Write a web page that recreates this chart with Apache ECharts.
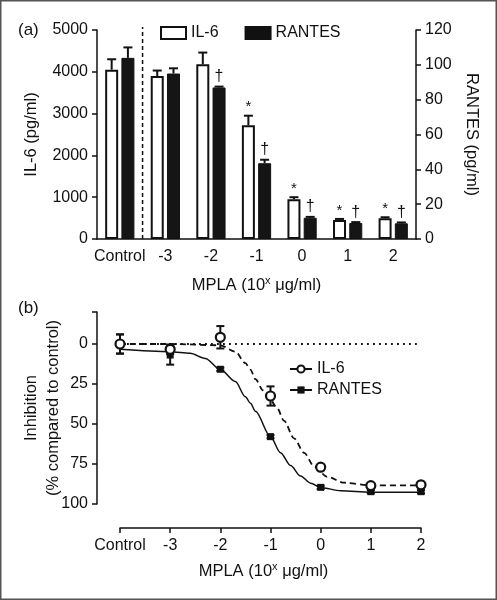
<!DOCTYPE html>
<html>
<head>
<meta charset="utf-8">
<script src="https://cdn.jsdelivr.net/npm/echarts@6/dist/echarts.min.js"></script>
<style>html,body{margin:0;padding:0;background:#fff;}#c{width:497px;height:600px;}</style>
</head>
<body>
<div id="c"></div>
<script>
// ---------- Panel (a) data ----------
var cats = ['Control', '-3', '-2', '-1', '0', '1', '2'];
var il6Mean = [4050, 3900, 4180, 2720, 950, 455, 495];
var il6Err = [250, 130, 280, 230, 50, 25, 25];
var il6Mark = ['', '', '', '*', '*', '*', '*'];
var rantesMean = [104, 95, 87, 43.5, 12.2, 9.2, 9];
var rantesErr = [6, 3, 0.5, 2, 0.5, 0.5, 0.5];
var rantesMark = ['', '', '†', '†', '†', '†', '†'];
var leftTicks = [0, 1000, 2000, 3000, 4000, 5000];
var rightTicks = [0, 20, 40, 60, 80, 100, 120];

// ---------- Panel (b) data ----------
var doseX = [-4, -3, -2, -1, 0, 1, 2]; // -4 = Control
var il6Inh = [0, 3.3, -4.2, 32.5, 77, 88.5, 88];
var il6InhErr = [6, 3, 7, 6, 1, 1, 1];
var rantesInh = [0, 6.9, 15.8, 57.9, 89.6, 92.3, 92.3];
var rantesInhErr = [6, 6, 1, 1, 1, 1, 1];
// fitted curves
var il6FitX = [-4, -3, -2, -1.7, -1.5, -1.4, -1.3, -1.15, -1, -0.87, -0.73, -0.53, -0.33, -0.13, 0.13, 0.47, 1, 2];
var il6FitY = [0, 0, 0.8, 4.8, 12, 16, 22, 29, 35, 40, 48, 59, 68, 76.5, 83, 86.7, 88.3, 88.3];
var rantesFitX = [-4, -3, -2.6, -2.3, -2, -1.7, -1.5, -1.4, -1.3, -1, -0.8, -0.6, -0.4, -0.2, 0, 0.4, 1, 2];
var rantesFitY = [3.3, 4.8, 5.8, 9, 16, 23.5, 33, 37, 42, 58, 68, 76, 82.5, 87, 89.7, 91.7, 92.6, 92.7];
var inhTicks = [-20, 0, 25, 50, 75, 100];
var inhLabels = [0, 25, 50, 75, 100];

var FONT = "'Liberation Sans', Arial, Helvetica, sans-serif";
var FS = 16;
var NFS = 16.5;
var BAR_W = 13, BAR_GAP = 3.25;

function zip(a, b) { return a.map(function (v, i) { return [v, b[i]]; }); }
function plain(v) { return String(v); }

function barErr(means, errs, marks, sign) {
  return function (params, api) {
    var i = params.dataIndex;
    var x = api.coord([i, 0])[0] + sign * (BAR_W + BAR_GAP) / 2;
    var yTop = api.coord([i, means[i]])[1];
    var yE = api.coord([i, means[i] + errs[i]])[1];
    var children = [
      { type: 'line', shape: { x1: x, y1: yTop, x2: x, y2: yE }, style: { stroke: '#111', lineWidth: 2 } },
      { type: 'line', shape: { x1: x - 4.5, y1: yE, x2: x + 4.5, y2: yE }, style: { stroke: '#111', lineWidth: 2 } }
    ];
    if (marks[i]) {
      var star = marks[i] === '*';
      children.push({ type: 'text', style: { text: marks[i], x: x, y: yE - (star ? 1 : 2), align: 'center', verticalAlign: 'bottom', font: (star ? '15px ' : '16px ') + FONT, fill: '#111' } });
    }
    return { type: 'group', children: children };
  };
}

function ptErr(xs, means, errs) {
  return function (params, api) {
    var i = params.dataIndex;
    var p1 = api.coord([xs[i], means[i] - errs[i]]);
    var p2 = api.coord([xs[i], means[i] + errs[i]]);
    var s = { stroke: '#111', lineWidth: 2 };
    return { type: 'group', children: [
      { type: 'line', shape: { x1: p1[0], y1: p1[1], x2: p2[0], y2: p2[1] }, style: s },
      { type: 'line', shape: { x1: p1[0] - 4, y1: p1[1], x2: p1[0] + 4, y2: p1[1] }, style: s },
      { type: 'line', shape: { x1: p2[0] - 4, y1: p2[1], x2: p2[0] + 4, y2: p2[1] }, style: s }
    ] };
  };
}

var axisTxt = { color: '#111', fontSize: FS, fontFamily: FONT };
var nameTxt = { color: '#111', fontSize: NFS, fontFamily: FONT };
var axLine = { show: true, onZero: false, lineStyle: { color: '#111', width: 1.5 } };
var axTick = { show: true, length: 5, lineStyle: { color: '#111', width: 1.5 } };
var mplaName = 'MPLA (10{sup|x} μg/ml)';
var mplaRich = { sup: { fontSize: 11, fontFamily: FONT, color: '#111', padding: [0, 0, 9, 0] } };

var chart = echarts.init(document.getElementById('c'), null, { renderer: 'canvas' });
var option = {
  animation: false,
  backgroundColor: '#fff',
  textStyle: { fontFamily: FONT },
  graphic: [
    { type: 'rect', shape: { x: 0.75, y: 0.75, width: 495.5, height: 598.5 }, style: { fill: 'none', stroke: '#555', lineWidth: 1.5 } },
    { type: 'text', left: 18, top: 22, style: { text: '(a)', font: '17px ' + FONT, fill: '#111' } },
    { type: 'text', left: 18, top: 300, style: { text: '(b)', font: '17px ' + FONT, fill: '#111' } }
  ],
  legend: [
    {
      left: 160, top: 25, padding: 0, itemWidth: 25, itemHeight: 12, itemGap: 26, orient: 'horizontal',
      textStyle: { fontSize: FS, fontFamily: FONT, color: '#111' },
      data: [
        { name: 'IL-6', icon: 'rect', itemStyle: { color: '#fff', borderColor: '#111', borderWidth: 2 } },
        { name: 'RANTES', icon: 'rect', itemStyle: { color: '#111' } }
      ]
    },
    {
      left: 289, top: 361, padding: 0, orient: 'vertical', itemWidth: 22, itemHeight: 9, itemGap: 5,
      textStyle: { fontSize: FS, fontFamily: FONT, color: '#111' },
      formatter: function (n) { return n.replace(' (b)', ''); },
      data: [
        { name: 'IL-6 (b)', lineStyle: { opacity: 1, width: 2, color: '#111', type: 'solid' } },
        { name: 'RANTES (b)', lineStyle: { opacity: 1, width: 2, color: '#111', type: 'solid' } }
      ]
    }
  ],
  grid: [
    { left: 97, right: 81, top: 30, height: 209 },
    { left: 120, right: 76, top: 312, height: 192 }
  ],
  xAxis: [
    {
      gridIndex: 0, type: 'category', data: cats, boundaryGap: true,
      axisLine: axLine, axisTick: { show: false },
      axisLabel: Object.assign({ margin: 10, interval: 0 }, axisTxt),
      name: mplaName, nameLocation: 'middle', nameGap: 36, nameMoveOverlap: false,
      nameTextStyle: Object.assign({ rich: mplaRich }, nameTxt)
    },
    {
      gridIndex: 1, type: 'value', min: doseX[0], max: doseX[doseX.length - 1], interval: 1, offset: 24,
      axisLine: axLine, axisTick: axTick, splitLine: { show: false },
      axisLabel: Object.assign({ margin: 10, formatter: function (v) { return v === doseX[0] ? 'Control' : String(v); } }, axisTxt),
      name: mplaName, nameLocation: 'middle', nameGap: 33, nameMoveOverlap: false,
      nameTextStyle: Object.assign({ rich: mplaRich, padding: [0, 14, 0, 0] }, nameTxt)
    }
  ],
  yAxis: [
    {
      gridIndex: 0, type: 'value', position: 'left', min: leftTicks[0], max: leftTicks[leftTicks.length - 1], interval: 1000,
      axisLine: axLine, axisTick: axTick, splitLine: { show: false },
      axisLabel: Object.assign({ margin: 9, formatter: plain }, axisTxt),
      name: 'IL-6 (pg/ml)', nameLocation: 'middle', nameGap: 57, nameMoveOverlap: false, nameTextStyle: nameTxt
    },
    {
      gridIndex: 0, type: 'value', position: 'right', min: rightTicks[0], max: rightTicks[rightTicks.length - 1], interval: 20,
      axisLine: axLine, axisTick: axTick, splitLine: { show: false },
      axisLabel: Object.assign({ margin: 9, formatter: plain }, axisTxt),
      name: 'RANTES (pg/ml)', nameLocation: 'middle', nameGap: 47, nameRotate: -90, nameMoveOverlap: false, nameTextStyle: nameTxt
    },
    {
      gridIndex: 1, type: 'value', inverse: true, min: inhTicks[0], max: inhTicks[inhTicks.length - 1], offset: 23,
      axisLine: axLine,
      axisTick: Object.assign({ customValues: inhTicks }, axTick),
      splitLine: { show: false },
      axisLabel: Object.assign({ margin: 9, customValues: inhLabels, formatter: plain }, axisTxt),
      name: 'Inhibition\n(% compared to control)', nameLocation: 'middle', nameGap: 33, nameMoveOverlap: false,
      nameTextStyle: Object.assign({ lineHeight: 22 }, nameTxt)
    }
  ],
  series: [
    // ---- panel a ----
    {
      name: 'IL-6', type: 'bar', xAxisIndex: 0, yAxisIndex: 0, data: il6Mean, barWidth: BAR_W, barGap: (BAR_GAP / BAR_W * 100) + '%',
      itemStyle: { color: '#fff', borderColor: '#111', borderWidth: 2 }
    },
    {
      name: 'RANTES', type: 'bar', xAxisIndex: 0, yAxisIndex: 1, data: rantesMean, barWidth: BAR_W, barGap: (BAR_GAP / BAR_W * 100) + '%',
      itemStyle: { color: '#151515', borderColor: '#111', borderWidth: 1 }
    },
    {
      type: 'custom', xAxisIndex: 0, yAxisIndex: 0, z: 5, silent: true,
      data: il6Mean.map(function (v, i) { return [i, v]; }),
      renderItem: barErr(il6Mean, il6Err, il6Mark, -1)
    },
    {
      type: 'custom', xAxisIndex: 0, yAxisIndex: 1, z: 5, silent: true,
      data: rantesMean.map(function (v, i) { return [i, v]; }),
      renderItem: barErr(rantesMean, rantesErr, rantesMark, 1)
    },
    {
      type: 'custom', xAxisIndex: 0, yAxisIndex: 0, z: 4, silent: true,
      data: [[0, 0]],
      renderItem: function (params, api) {
        var band = api.size([1, 0])[0];
        var x = api.coord([0, 0])[0] + band / 2;
        var y0 = api.coord([0, 0])[1];
        var y1 = api.coord([0, leftTicks[leftTicks.length - 1]])[1] - 3;
        return { type: 'line', shape: { x1: x, y1: y0, x2: x, y2: y1 }, style: { stroke: '#111', lineWidth: 1.5, lineDash: [4, 3] } };
      }
    },
    // ---- panel b ----
    {
      type: 'line', xAxisIndex: 1, yAxisIndex: 2, clip: false, silent: true, symbol: 'none',
      data: [[doseX[0] - 23 / 50.2, 0], [doseX[doseX.length - 1], 0]],
      lineStyle: { color: '#111', width: 1.8, type: [1.8, 4.2] }, z: 1
    },
    {
      type: 'line', xAxisIndex: 1, yAxisIndex: 2, symbol: 'none', smooth: 0.3, smoothMonotone: 'x', silent: true,
      data: zip(il6FitX, il6FitY), lineStyle: { color: '#111', width: 1.8, type: [6, 4] }, z: 2
    },
    {
      type: 'line', xAxisIndex: 1, yAxisIndex: 2, symbol: 'none', smooth: 0.3, smoothMonotone: 'x', silent: true,
      data: zip(rantesFitX, rantesFitY), lineStyle: { color: '#111', width: 1.5 }, z: 2
    },
    {
      type: 'custom', xAxisIndex: 1, yAxisIndex: 2, z: 3, silent: true,
      data: zip(doseX, rantesInh), renderItem: ptErr(doseX, rantesInh, rantesInhErr)
    },
    {
      type: 'custom', xAxisIndex: 1, yAxisIndex: 2, z: 3, silent: true,
      data: zip(doseX, il6Inh), renderItem: ptErr(doseX, il6Inh, il6InhErr)
    },
    {
      name: 'RANTES (b)', type: 'line', xAxisIndex: 1, yAxisIndex: 2, data: zip(doseX, rantesInh),
      symbol: 'rect', symbolSize: 7, showAllSymbol: true, lineStyle: { opacity: 0 },
      itemStyle: { color: '#111' }, z: 4
    },
    {
      name: 'IL-6 (b)', type: 'line', xAxisIndex: 1, yAxisIndex: 2, data: zip(doseX, il6Inh),
      symbol: 'circle', symbolSize: 9, showAllSymbol: true, lineStyle: { opacity: 0 },
      itemStyle: { color: '#fff', borderColor: '#111', borderWidth: 2.2 }, z: 5
    }
  ]
};
chart.setOption(option);
</script>
</body>
</html>
